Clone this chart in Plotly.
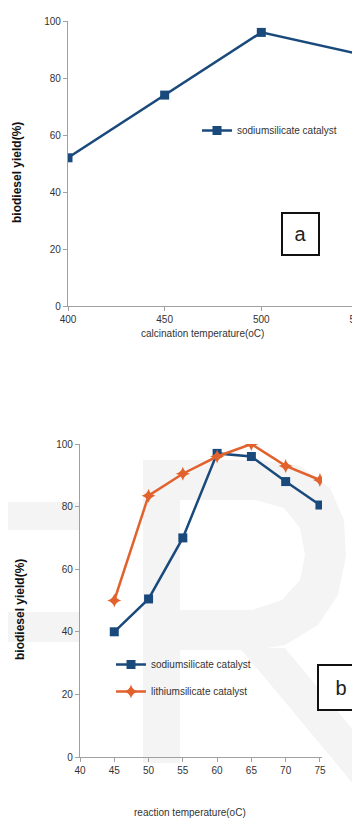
import plotly.graph_objects as go

# Chart a data
calc_temp = [400, 450, 500, 550]
sodium_a = [52, 74, 96, 88.5]

# Chart b data
react_temp = [45, 50, 55, 60, 65, 70, 75]
sodium_b = [40, 50.5, 70, 97, 96, 88, 80.5]
lithium_b = [50, 83.5, 90.5, 96, 100, 93, 88.5]

a_xticks = [400, 450, 500, 550]
b_xticks = [40, 45, 50, 55, 60, 65, 70, 75]
yticks = [0, 20, 40, 60, 80, 100]

W, H = 360, 825
OFF = 8  # page body margin offset
NAVY = "#1a4a7c"
ORANGE = "#e2622e"
FONT = "Liberation Sans, Arial, sans-serif"
WM = "#f4f4f4"

def py(p):
    return 1 - (p - OFF) / H

def px(p):
    return (p - OFF) / W

def path(points_list):
    s = ""
    for pts in points_list:
        s += "M" + " L".join(f"{px(x):.5f},{py(y):.5f}" for x, y in pts) + " Z "
    return s.strip()

fig = go.Figure()

fig.add_trace(go.Scatter(
    x=calc_temp, y=sodium_a, mode="lines+markers", name="sodiumsilicate catalyst",
    line=dict(color=NAVY, width=2.5), marker=dict(symbol="square", size=9, color=NAVY),
    xaxis="x", yaxis="y", legend="legend"))

fig.add_trace(go.Scatter(
    x=react_temp, y=sodium_b, mode="lines+markers", name="sodiumsilicate catalyst",
    line=dict(color=NAVY, width=2.5), marker=dict(symbol="square", size=9, color=NAVY),
    xaxis="x2", yaxis="y2", legend="legend2", legendgroup="s"))

fig.add_trace(go.Scatter(
    x=react_temp, y=lithium_b, mode="lines+markers", name="lithiumsilicate catalyst",
    line=dict(color=ORANGE, width=2.5), marker=dict(symbol="star-diamond", size=10, color=ORANGE),
    xaxis="x2", yaxis="y2", legend="legend2", legendgroup="l"))

axis_common = dict(showgrid=False, zeroline=False, showline=True, linecolor="#a0a0a0",
                   linewidth=1.2, ticks="outside", ticklen=4, tickcolor="#a0a0a0",
                   automargin=False,
                   tickfont=dict(family=FONT, size=10, color="#333333"))

fig.update_layout(
    width=W, height=H, margin=dict(l=0, r=0, t=0, b=0, autoexpand=False),
    paper_bgcolor="white", plot_bgcolor="rgba(0,0,0,0)",
    font=dict(family=FONT, size=10, color="#333333"),
    xaxis=dict(domain=[px(68), 1], range=[400, 555.2], tickvals=a_xticks, anchor="y", **axis_common),
    yaxis=dict(domain=[py(306), py(21)], range=[0, 100], tickvals=yticks, anchor="x", **axis_common),
    xaxis2=dict(domain=[px(80), px(322)], range=[40, 75.3], tickvals=b_xticks, anchor="y2", **axis_common),
    yaxis2=dict(domain=[py(757), py(444)], range=[0, 100], tickvals=yticks, anchor="x2", **axis_common),
    legend=dict(x=px(197), y=py(116), xanchor="left", yanchor="top", bgcolor="rgba(0,0,0,0)",
                font=dict(family=FONT, size=10, color="#333333"), itemwidth=30),
    legend2=dict(x=px(111), y=py(650), xanchor="left", yanchor="top", bgcolor="rgba(0,0,0,0)",
                 font=dict(family=FONT, size=10, color="#333333"), itemwidth=30, tracegroupgap=8),
    showlegend=True,
)

shapes = [
    # faint watermark
    dict(type="path", xref="paper", yref="paper", layer="below", fillcolor=WM, line_width=0,
         path=path([[(143, 460), (143, 763), (180, 763), (180, 460)]])),
    dict(type="path", xref="paper", yref="paper", layer="below", fillcolor=WM, line_width=0,
         path=path([[(180, 460), (262, 460), (300, 466), (330, 488), (344, 520), (346, 556),
                     (338, 595), (318, 625), (285, 645), (255, 650), (180, 650)],
                    [(180, 610), (252, 610), (282, 600), (300, 580), (305, 555), (300, 528),
                     (284, 508), (255, 500), (180, 500)]])),
    dict(type="path", xref="paper", yref="paper", layer="below", fillcolor=WM, line_width=0,
         path=path([[(240, 648), (285, 648), (360, 738), (360, 792)]])),
    dict(type="rect", xref="paper", yref="paper", layer="below", fillcolor=WM, line_width=0,
         x0=0, x1=px(80), y0=py(530), y1=py(502)),
    dict(type="rect", xref="paper", yref="paper", layer="below", fillcolor=WM, line_width=0,
         x0=0, x1=px(80), y0=py(642), y1=py(612)),
]
fig.update_layout(shapes=shapes)

def ann(text, x, y, size, color="#333333", **kw):
    return dict(text=text, x=px(x), y=py(y), xref="paper", yref="paper", showarrow=False,
                xanchor="center", yanchor="middle",
                font=dict(family=FONT, size=size, color=color), **kw)

annotations = [
    ann("calcination temperature(oC)", 202, 333, 10),
    ann("reaction temperature(oC)", 190, 812, 10),
    ann("<b>biodiesel yield(%)</b>", 17, 173, 12, "#111111", textangle=-90),
    ann("<b>biodiesel yield(%)</b>", 20, 610, 12, "#111111", textangle=-90),
    ann("a", 300.5, 234, 20, "#222222", width=33, height=38, bordercolor="#111111",
        borderwidth=2, bgcolor="white"),
    ann("b", 341, 687.5, 20, "#222222", width=42, height=41, bordercolor="#111111",
        borderwidth=2, bgcolor="white"),
]
fig.update_layout(annotations=annotations)

fig.write_html("out.html")
